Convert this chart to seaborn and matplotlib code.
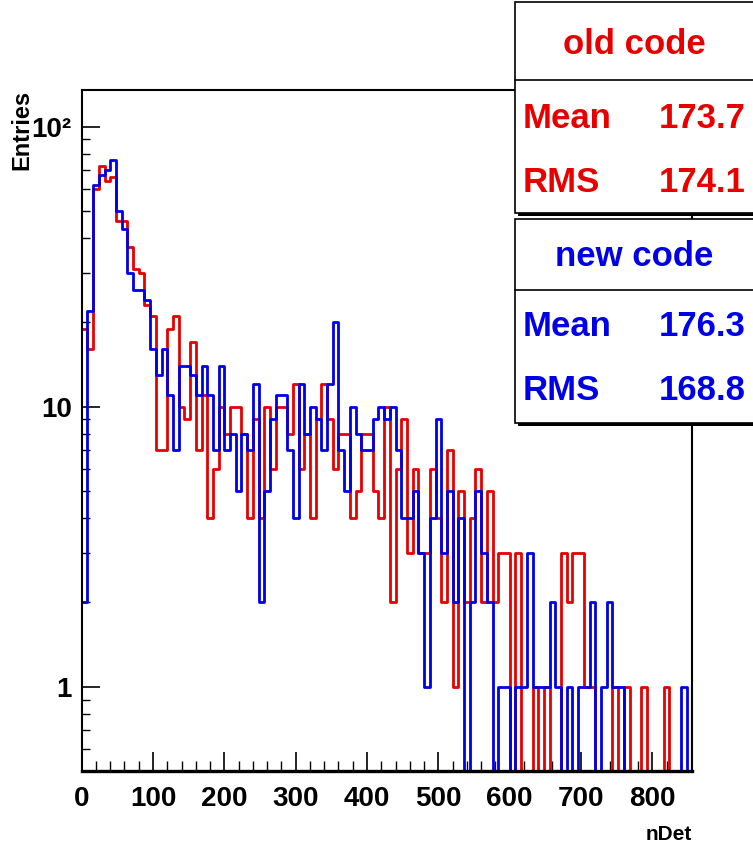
import numpy as np
import pandas as pd
import matplotlib
matplotlib.use("Agg")
import matplotlib.pyplot as plt
from matplotlib.patches import Rectangle
from matplotlib.lines import Line2D
from matplotlib.ticker import FixedLocator, MultipleLocator, LogLocator, NullFormatter
import seaborn as sns

# histogram binning: 107 bins of width 8 in nDet
bin_width = 8
n_bins = 107

# red histogram ("old code"), entries per bin
old_counts = [19, 16, 60, 72, 64, 66, 46, 46, 37, 31,
              30, 23, 21, 7, 7, 19, 21, 10, 9, 17,
              7, 11, 4, 6, 10, 8, 10, 10, 8, 4,
              9, 4, 10, 6, 10, 10, 8, 12, 6, 8,
              4, 9, 12, 9, 6, 8, 8, 4, 5, 8,
              8, 5, 4, 10, 2, 6, 9, 3, 6, 3,
              3, 6, 4, 2, 7, 1, 5, 2, 4, 6,
              2, 5, 2, 3, 3, 0, 3, 0, 0, 1,
              0, 1, 0, 0, 3, 2, 3, 3, 1, 1,
              0, 0, 0, 1, 0, 1, 0, 0, 1, 0,
              0, 0, 1, 0, 0, 0, 0]

# blue histogram ("new code")
new_counts = [2, 22, 62, 67, 70, 76, 50, 43, 30, 26,
              26, 24, 16, 13, 16, 11, 7, 14, 14, 13,
              11, 14, 11, 7, 14, 7, 8, 5, 8, 7,
              12, 2, 5, 9, 11, 11, 7, 4, 12, 8,
              10, 9, 7, 12, 20, 7, 5, 10, 8, 7,
              7, 9, 10, 9, 10, 7, 4, 4, 5, 3,
              1, 4, 9, 3, 5, 2, 4, 0, 2, 5,
              3, 2, 0, 1, 1, 0, 1, 1, 3, 1,
              1, 1, 2, 1, 0, 1, 0, 1, 1, 2,
              0, 1, 2, 1, 1, 0, 0, 0, 0, 0,
              0, 0, 0, 0, 0, 1, 0]

old_stats = ["173.7", "174.1"]
new_stats = ["176.3", "168.8"]
stat_names = ["Mean", "RMS"]
x_ticks = [0, 100, 200, 300, 400, 500, 600, 700, 800]
y_ticks = [1, 10, 100]
y_tick_labels = ["1", "10", "10\u00b2"]

RED = "#e60000"
BLUE = "#0000e6"
W, H = 753, 856

sns.set_style("white")
plt.rcParams['font.family'] = ['Liberation Sans', 'DejaVu Sans']
plt.rcParams['font.weight'] = 'bold'
for key in ['text.color', 'xtick.color', 'ytick.color', 'axes.labelcolor', 'axes.edgecolor']:
    plt.rcParams[key] = 'black'

x_max = n_bins * bin_width
centers = np.arange(n_bins) * bin_width + bin_width / 2
df_old = pd.DataFrame({"nDet": centers, "entries": old_counts})
df_new = pd.DataFrame({"nDet": centers, "entries": new_counts})

fig = plt.figure(figsize=(W / 100, H / 100), dpi=100)
ax = fig.add_axes([81.7 / W, 1 - 771 / H, (692.3 - 81.7) / W, (771 - 90) / H])

sns.histplot(data=df_old, x="nDet", weights="entries", bins=n_bins, binrange=(0, x_max),
             element="step", fill=False, color=RED, linewidth=2.0, ax=ax)
sns.histplot(data=df_new, x="nDet", weights="entries", bins=n_bins, binrange=(0, x_max),
             element="step", fill=False, color=BLUE, linewidth=2.0, ax=ax)

ax.set_yscale("log")
ax.set_xlim(0, x_max)
ax.set_ylim(0.5, 135)
ax.set_xlabel("")
ax.set_ylabel("")

ax.xaxis.set_major_locator(FixedLocator(x_ticks))
ax.xaxis.set_minor_locator(MultipleLocator(20))
ax.set_xticklabels([str(t) for t in x_ticks])
ax.yaxis.set_major_locator(FixedLocator(y_ticks))
ax.yaxis.set_minor_locator(LogLocator(base=10, subs=np.arange(2, 10)))
ax.yaxis.set_minor_formatter(NullFormatter())
ax.set_yticklabels(y_tick_labels)

ax.tick_params(axis='x', which='major', direction='in', length=14, width=1.2,
               labelsize=20, pad=11, bottom=True, top=False, colors='black')
ax.tick_params(axis='x', which='minor', direction='in', length=7, width=1.0,
               bottom=True, top=False, colors='black')
ax.tick_params(axis='y', which='major', direction='in', length=13, width=1.2,
               labelsize=20, pad=7, left=True, right=False, colors='black')
ax.tick_params(axis='y', which='minor', direction='in', length=6, width=1.0,
               left=True, right=False, colors='black')
for lab in ax.get_xticklabels() + ax.get_yticklabels():
    lab.set_fontweight('bold')

for side in ['left', 'right', 'top']:
    ax.spines[side].set_linewidth(1.5)
    ax.spines[side].set_color('black')
ax.spines['bottom'].set_linewidth(2.4)
ax.spines['bottom'].set_color('black')

fig.text(692 / W, 1 - 835 / H, "nDet", ha='right', va='center', fontsize=15, fontweight='bold')
fig.text(22 / W, 1 - 90 / H, "Entries", rotation=90, ha='center', va='top',
         fontsize=17, fontweight='bold')


def fx(px):
    return px / W


def fy(py):
    return 1 - py / H


def stats_box(top, bottom, sep, title, values, color, title_y, row_ys):
    # shadow then white box
    fig.add_artist(Rectangle((fx(518), fy(bottom + 3)), fx(260), fy(top + 3) - fy(bottom + 3),
                             transform=fig.transFigure, facecolor='black', edgecolor='none', zorder=5))
    fig.add_artist(Rectangle((fx(515), fy(bottom)), fx(260), fy(top) - fy(bottom),
                             transform=fig.transFigure, facecolor='white', edgecolor='black',
                             linewidth=1.2, zorder=6))
    fig.add_artist(Line2D([fx(515), fx(760)], [fy(sep), fy(sep)], transform=fig.transFigure,
                          color='black', linewidth=1.2, zorder=7))
    fig.text(fx(634), fy(title_y), title, ha='center', va='center', color=color,
             fontsize=25, fontweight='bold', zorder=8)
    for name, val, r in zip(stat_names, values, row_ys):
        fig.text(fx(523), fy(r), name, ha='left', va='center', color=color,
                 fontsize=25, fontweight='bold', zorder=8)
        fig.text(fx(746), fy(r), val, ha='right', va='center', color=color,
                 fontsize=25, fontweight='bold', zorder=8)


stats_box(2, 213, 80, "old code", old_stats, RED, 44, [118, 182])
stats_box(219, 423, 290, "new code", new_stats, BLUE, 256, [327, 390])

fig.savefig("out.png", dpi=100)
